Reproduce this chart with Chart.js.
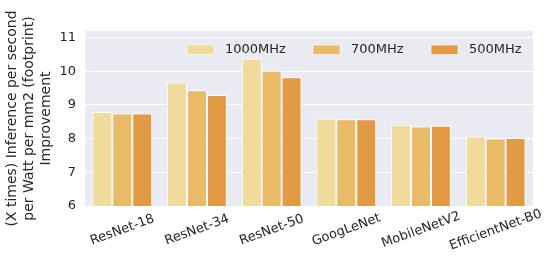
<!DOCTYPE html>
<html>
<head>
<meta charset="utf-8">
<script src="https://cdn.jsdelivr.net/npm/chart.js@4/dist/chart.umd.min.js"></script>
<style>
  html, body { margin: 0; padding: 0; background: #fff; }
  #wrap { width: 550px; height: 267px; }
</style>
</head>
<body>
<div id="wrap"><canvas id="improvementChart"></canvas></div>
<script>
// data
const models = ['ResNet-18', 'ResNet-34', 'ResNet-50', 'GoogLeNet', 'MobileNetV2', 'EfficientNet-B0'];
const freqLabels = ['1000MHz', '700MHz', '500MHz'];
const mhz1000 = [8.79, 9.66, 10.37, 8.59, 8.41, 8.06];
const mhz700 = [8.74, 9.43, 10.01, 8.57, 8.36, 8.00];
const mhz500 = [8.74, 9.29, 9.82, 8.57, 8.38, 8.02];
const yTicks = [6, 7, 8, 9, 10, 11];

const colors = ['#f0da9c', '#e9bb66', '#e39a45'];
const textColor = '#262626';
const font = 'DejaVu Sans';

// grey panel behind the plot (seaborn darkgrid look)
const panelBg = {
    id: 'panelBg',
    beforeDraw(chart) {
        const { ctx, chartArea: a } = chart;
        ctx.save();
        ctx.fillStyle = '#eaeaf2';
        ctx.fillRect(a.left, a.top, a.right - a.left, a.bottom - a.top);
        ctx.restore();
    }
};

// rotated category labels, centred under each group
const xLabels = {
    id: 'xLabels',
    afterDraw(chart) {
        const { ctx } = chart;
        const xs = chart.scales.x;
        ctx.save();
        ctx.font = '13px "' + font + '"';
        ctx.fillStyle = textColor;
        ctx.textAlign = 'center';
        ctx.textBaseline = 'middle';
        models.forEach((m, i) => {
            ctx.save();
            ctx.translate(xs.getPixelForTick(i), 230);
            ctx.rotate(-20 * Math.PI / 180);
            ctx.fillText(m, 0, 0);
            ctx.restore();
        });
        ctx.restore();
    }
};

// legend drawn inside the plot, top right
const innerLegend = {
    id: 'innerLegend',
    afterDatasetsDraw(chart) {
        const { ctx } = chart;
        const boxX = [187, 313, 431];
        ctx.save();
        ctx.font = '13px "' + font + '"';
        ctx.textBaseline = 'middle';
        chart.data.datasets.forEach((ds, i) => {
            ctx.fillStyle = ds.backgroundColor;
            ctx.fillRect(boxX[i], 45, 27, 9.5);
            ctx.strokeStyle = '#ffffff';
            ctx.lineWidth = 0.6;
            ctx.strokeRect(boxX[i], 45, 27, 9.5);
            ctx.fillStyle = textColor;
            ctx.fillText(ds.label, boxX[i] + 38, 49.5);
        });
        ctx.restore();
    }
};

const ctx = document.getElementById('improvementChart').getContext('2d');
new Chart(ctx, {
    type: 'bar',
    data: {
        labels: models,
        datasets: [
            { label: freqLabels[0], data: mhz1000, backgroundColor: colors[0] },
            { label: freqLabels[1], data: mhz700, backgroundColor: colors[1] },
            { label: freqLabels[2], data: mhz500, backgroundColor: colors[2] }
        ].map(d => Object.assign(d, {
            borderColor: '#ffffff',
            borderWidth: 1,
            borderSkipped: false,
            categoryPercentage: 0.8,
            barPercentage: 1.0
        }))
    },
    options: {
        responsive: true,
        maintainAspectRatio: false,
        animation: false,
        layout: { padding: { top: 31, right: 17, left: 0, bottom: 0 } },
        scales: {
            x: {
                grid: { display: false },
                border: { display: false },
                ticks: { display: false },
                afterFit(scale) { scale.height = 61; }
            },
            y: {
                min: 6,
                max: 11.19,
                afterBuildTicks(scale) {
                    scale.ticks = yTicks.map(v => ({ value: v }));
                },
                afterFit(scale) { scale.width = 85; },
                grid: { color: '#ffffff', lineWidth: 1, drawTicks: false },
                border: { display: false },
                ticks: {
                    color: textColor,
                    padding: 9,
                    font: { family: font, size: 13 }
                },
                title: {
                    display: true,
                    text: ['(X times) Inference per second', 'per Watt per mm2 (footprint)', 'Improvement'],
                    color: textColor,
                    padding: { top: 4, bottom: 0 },
                    font: { family: font, size: 14, lineHeight: 1.2 }
                }
            }
        },
        plugins: {
            legend: { display: false },
            tooltip: { enabled: false }
        }
    },
    plugins: [panelBg, xLabels, innerLegend]
});
</script>
</body>
</html>
